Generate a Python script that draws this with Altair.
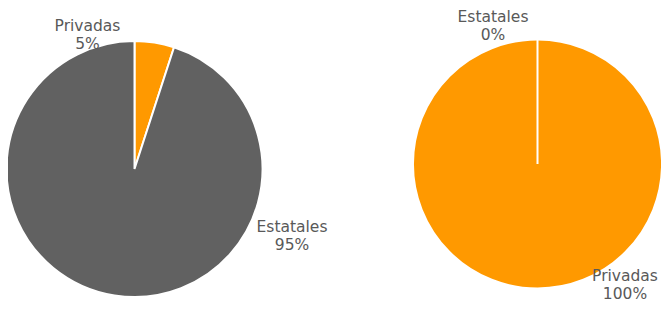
import altair as alt
import pandas as pd

categories = ["Privadas", "Estatales"]
left_values = [5, 95]
right_values = [100, 0]
colors = ["#FF9900", "#616161"]

FONT = "DejaVu Sans"
TEXT_COLOR = "#595959"


def make_df(cats, vals, order):
    return pd.DataFrame({
        "cat": cats,
        "val": vals,
        "idx": order,
        "label": [f"{c}\n{v}%" for c, v in zip(cats, vals)],
    })


def pie_layers(df, cx, cy, r, label_pos):
    base = alt.Chart(df)
    arc = base.mark_arc(radius=r, stroke="white", strokeWidth=2, x=cx, y=cy).encode(
        theta=alt.Theta("val:Q", stack=True),
        color=alt.Color("cat:N", scale=alt.Scale(domain=categories, range=colors), legend=None),
        order=alt.Order("idx:Q"),
    )
    layers = [arc]
    for cat, (tx, ty) in label_pos.items():
        t = base.transform_filter(alt.datum.cat == cat).mark_text(
            x=tx, y=ty, font=FONT, fontSize=15.5, color=TEXT_COLOR,
            lineBreak="\n", lineHeight=18, align="center", baseline="middle",
        ).encode(text="label:N")
        layers.append(t)
    return layers


left_df = make_df(categories, left_values, [0, 1])
right_df = make_df(categories, right_values, [1, 0])

layers = pie_layers(left_df, 126.5, 161, 128, {"Privadas": (79.5, 18), "Estatales": (284, 219)})
layers += pie_layers(right_df, 529.5, 156, 124.5, {"Estatales": (485, 9), "Privadas": (617, 268)})

chart = (
    alt.layer(*layers)
    .resolve_scale(theta="independent")
    .properties(width=653, height=299, padding=0, autosize=alt.AutoSizeParams(type="none"))
    .configure_view(stroke=None)
)

chart.save("out.html", embed_options={"renderer": "svg", "actions": False})
